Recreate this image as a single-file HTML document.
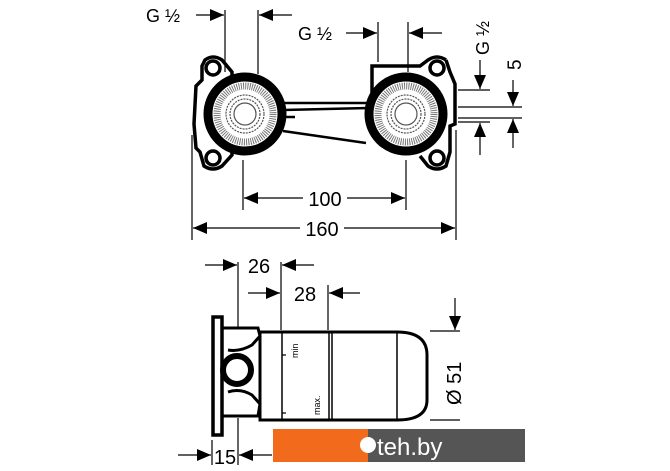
<!DOCTYPE html>
<html><head><meta charset="utf-8"><style>
html,body{margin:0;padding:0;background:#fff;}
svg{display:block;}
text{font-family:"Liberation Sans",sans-serif;fill:#000;}
</style></head><body>
<svg width="670" height="471" viewBox="0 0 670 471" xmlns="http://www.w3.org/2000/svg">
<defs>
<marker id="a" viewBox="0 0 14 12" refX="14" refY="6" markerWidth="14" markerHeight="12" markerUnits="userSpaceOnUse" orient="auto"><path d="M0,0 L14,6 L0,12z" fill="#000"/></marker>
</defs>
<g stroke="#000" fill="none" stroke-width="1.2">
<path d="M205,60 Q213,54 222,60 L232,72 L232,155 L222,166 Q213,172 204,166 L200,152 L196,148 L194,124 L196,86 L202,80 L202,66 Z" fill="#fff" stroke-width="3.5"/>
<circle cx="213" cy="68" r="7" stroke-width="3.5"/>
<circle cx="213" cy="158" r="7" stroke-width="3.5"/>
<path d="M446,60 Q437,54 428,60 L420,66 L372,66 L372,94 M446,60 L450,72 L455,84 L455,124 L450,126 L450,152 L446,166 Q437,172 428,166 L420,156" fill="none" stroke-width="3.5"/>
<circle cx="437" cy="68" r="7" stroke-width="3.5"/>
<circle cx="437" cy="158" r="7" stroke-width="3.5"/>
<path d="M283,103 L368,103 L368,108 L283,110 M283,117 L295,117 M283,131 L366,143" stroke-width="2.5"/>
<circle cx="245" cy="114" r="37" fill="#fff" stroke-width="9"/>
<circle cx="245" cy="114" r="28" stroke="#777" stroke-width="7" stroke-dasharray="1 1.2"/>
<circle cx="245" cy="114" r="19" stroke="#555" stroke-dasharray="2 1"/>
<circle cx="245" cy="114" r="15" stroke="#555" stroke-dasharray="2 1"/>
<circle cx="245" cy="114" r="11" stroke="#555"/>
<circle cx="406" cy="114" r="37" fill="#fff" stroke-width="9"/>
<circle cx="406" cy="114" r="28" stroke="#777" stroke-width="7" stroke-dasharray="1 1.2"/>
<circle cx="406" cy="114" r="19" stroke="#555" stroke-dasharray="2 1"/>
<circle cx="406" cy="114" r="15" stroke="#555" stroke-dasharray="2 1"/>
<circle cx="406" cy="114" r="11" stroke="#555"/>
<path d="M225,10 V72 M258,10 V74 M378,22 V62 M408,22 V72 M243,160 V210 M406,160 V210 M192,135 V240 M456,130 V240"/>
<path d="M458,90 H490 M458,107 H522 M458,118 H522 M458,122 H490"/>
<path d="M196,15 H224" marker-end="url(#a)"/><path d="M292,15 H259" marker-end="url(#a)"/>
<path d="M346,33 H377" marker-end="url(#a)"/><path d="M442,33 H409" marker-end="url(#a)"/>
<path d="M480,60 V89" marker-end="url(#a)"/><path d="M480,155 V123" marker-end="url(#a)"/>
<path d="M513,80 V106" marker-end="url(#a)"/><path d="M513,148 V119" marker-end="url(#a)"/>
<path d="M303,198 H244" marker-end="url(#a)"/><path d="M347,198 H405" marker-end="url(#a)"/>
<path d="M300,228 H193" marker-end="url(#a)"/><path d="M344,228 H455" marker-end="url(#a)"/>
<path d="M213,317 H222 V435 H213 Z" stroke-width="3.5"/>
<path d="M222,328 H258 L260,336 L252,345 Q240,352 228,350 M228,392 Q240,388 252,395 L260,404 L258,416 H222" stroke-width="3"/>
<circle cx="237" cy="370" r="14" stroke-width="6"/>
<path d="M260,332 H397 Q427,332 427,355 V400 Q427,420 397,420 H260 Z" stroke-width="3"/>
<path d="M282,332 V420 M329,332 V420 M332,332 V420 M397,332 V420" stroke-width="1.5"/>
<path d="M282,355 H286 M282,413 H286"/>
<path d="M238,262 V328 M281,262 V330 M328,285 V330 M212,440 V465 M238,418 V465 M430,331 H460 M430,420 H460"/>
<path d="M205,265 H237" marker-end="url(#a)"/><path d="M314,265 H282" marker-end="url(#a)"/>
<path d="M248,293 H280" marker-end="url(#a)"/><path d="M360,293 H329" marker-end="url(#a)"/>
<path d="M455,298 V330" marker-end="url(#a)"/>
<path d="M178,455 H211" marker-end="url(#a)"/><path d="M272,455 H239" marker-end="url(#a)"/>
</g>
<text x="146" y="22" font-size="18">G ½</text>
<text x="298" y="40" font-size="18">G ½</text>
<text transform="translate(489,55) rotate(-90)" font-size="18">G ½</text>
<text transform="translate(521,70) rotate(-90)" font-size="19">5</text>
<text x="325" y="206" font-size="20" text-anchor="middle">100</text>
<text x="322" y="236" font-size="20" text-anchor="middle">160</text>
<text x="259" y="273" font-size="20" text-anchor="middle">26</text>
<text x="305" y="301" font-size="20" text-anchor="middle">28</text>
<text x="225" y="464" font-size="20" text-anchor="middle">15</text>
<text transform="translate(461,405) rotate(-90)" font-size="20">Ø 51</text>
<text transform="translate(298,358) rotate(-90)" font-size="9">min</text>
<text transform="translate(320,415) rotate(-90)" font-size="9">max.</text>
<rect x="273" y="429" width="95" height="33" fill="#f26a1b"/>
<rect x="368" y="429" width="157" height="33" fill="#555"/>
<circle cx="368" cy="445" r="8" fill="#fff"/>
<text x="377" y="455" font-size="24" style="fill:#fff">teh.by</text>
</svg>
</body></html>
